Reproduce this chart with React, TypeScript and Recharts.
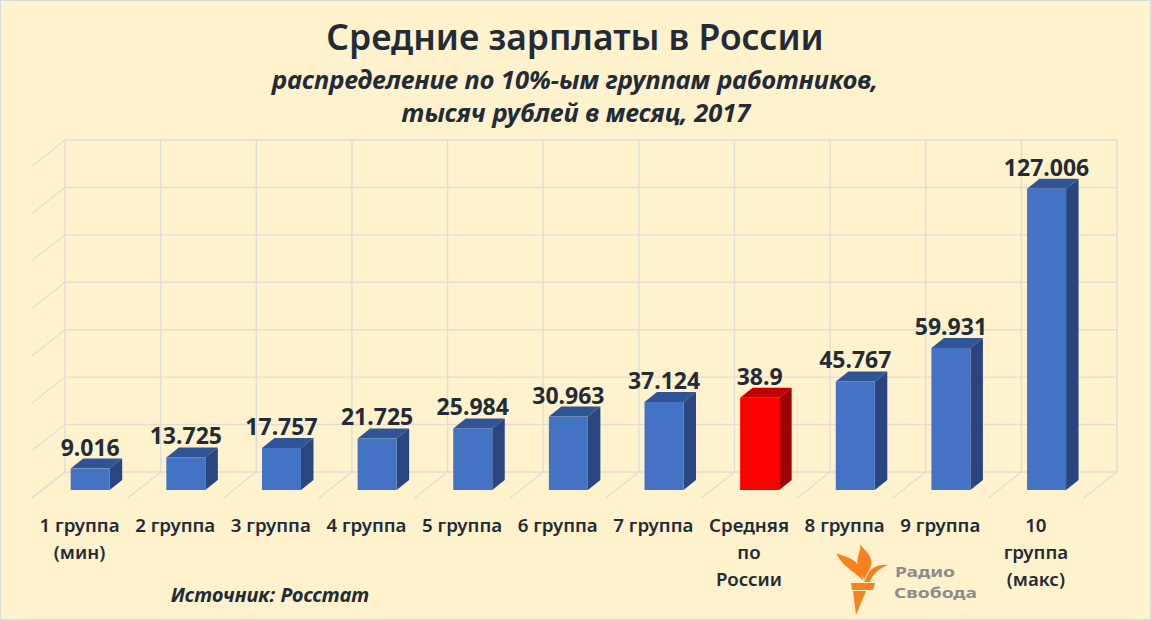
import React from "react";
import { BarChart, Bar, XAxis, YAxis, CartesianGrid, LabelList } from "recharts";

const categories = ["1 группа|(мин)", "2 группа", "3 группа", "4 группа", "5 группа", "6 группа", "7 группа", "Средняя|по|России", "8 группа", "9 группа", "10|группа|(макс)"];
const values = [9.016, 13.725, 17.757, 21.725, 25.984, 30.963, 37.124, 38.9, 45.767, 59.931, 127.006];
const yTicks = [0, 20, 40, 60, 80, 100, 120, 140];
const highlighted = "Средняя|по|России";
const titleText = "Средние зарплаты в России";
const subtitleLines = ["распределение по 10%-ым группам работников,", "тысяч рублей в месяц, 2017"];
const sourceText = "Источник: Росстат";
const logoLines = ["Радио", "Свобода"];

const data = categories.map((name, i) => ({ name, value: values[i] }));

const W = 1152, H = 621;
const FONT = "'Noto Sans', 'Open Sans', sans-serif";
const INK = "#222B38";
const GRID = "#E0DDD8";
const WALL_DX = 22.3, WALL_DY = -18;
const STUB_DX = -33, STUB_DY = 26;
const DEPTH_X = 12.5, DEPTH_Y = 10;

const Bar3D = (props: any) => {
  const { x, y, width, height, payload } = props;
  const red = payload.name === highlighted;
  const front = red ? "#FF0000" : "#4472C4";
  const top = red ? "#C00000" : "#2F5597";
  const side = red ? "#A00000" : "#2A4680";
  return (
    <g>
      <polygon points={`${x},${y} ${x + DEPTH_X},${y - DEPTH_Y} ${x + width + DEPTH_X},${y - DEPTH_Y} ${x + width},${y}`} fill={top} />
      <polygon points={`${x + width},${y} ${x + width + DEPTH_X},${y - DEPTH_Y} ${x + width + DEPTH_X},${y + height - DEPTH_Y} ${x + width},${y + height}`} fill={side} />
      <rect x={x} y={y} width={width} height={height} fill={front} />
    </g>
  );
};

const HLine = (p: any) => {
  const y = p.y1 + WALL_DY;
  const x = p.x1 + WALL_DX;
  return (
    <g key={p.key}>
      <line x1={x} y1={y} x2={p.x2 + WALL_DX} y2={y} stroke={GRID} strokeWidth={1.4} />
      <line x1={x} y1={y} x2={x + STUB_DX} y2={y + STUB_DY} stroke={GRID} strokeWidth={1.2} />
    </g>
  );
};

const VLine = (p: any) => {
  const x = p.x1 + WALL_DX;
  const yTop = Math.min(p.y1, p.y2) + WALL_DY;
  const yBot = Math.max(p.y1, p.y2) + WALL_DY;
  return (
    <g key={p.key}>
      <line x1={x} y1={yTop} x2={x} y2={yBot} stroke={GRID} strokeWidth={1.4} />
      <line x1={x} y1={yBot} x2={x + STUB_DX} y2={yBot + STUB_DY} stroke={GRID} strokeWidth={1.2} />
    </g>
  );
};

const Tick = (p: any) => {
  const lines = String(p.payload.value).split("|");
  return (
    <g>
      {lines.map((l: string, i: number) => (
        <text key={i} x={p.x - 11} y={532 + i * 27} textAnchor="middle" fontFamily={FONT} fontWeight={600} fontSize={18.7} fill={INK}>{l}</text>
      ))}
    </g>
  );
};

export default function App() {
  return (
    <div style={{ position: "absolute", left: 0, top: 0, width: W, height: H, boxSizing: "border-box", background: "#FFF2CC", borderStyle: "solid", borderColor: "#D9D9D9", borderWidth: "1px 2px 2px 1px", overflow: "hidden" }}>
      <div style={{ position: "absolute", left: -1, top: -1 }}>
        <BarChart width={W} height={H} data={data} barSize={39} margin={{ top: 158, right: 57.3, bottom: 31, left: 42.7 }}>
          <CartesianGrid
            horizontal={HLine}
            vertical={VLine}
            verticalCoordinatesGenerator={({ offset }: any) => categories.map((_, i) => offset.left + (i * offset.width) / categories.length).concat(offset.left + offset.width)}
          />
          <XAxis dataKey="name" axisLine={false} tickLine={false} height={100} interval={0} tick={<Tick />} />
          <YAxis hide domain={[0, 140]} ticks={yTicks} />
          <Bar dataKey="value" shape={<Bar3D />} isAnimationActive={false}>
            <LabelList dataKey="value" position="top" offset={13} fill={INK} fontFamily={FONT} fontWeight={700} fontSize={23} />
          </Bar>
          <text x={575} y={50} textAnchor="middle" fontFamily={FONT} fontWeight={600} fontSize={35.4} fill={INK}>{titleText}</text>
          <text x={575} y={89} textAnchor="middle" fontFamily={FONT} fontWeight={700} fontStyle="italic" fontSize={25.5} fill={INK}>{subtitleLines[0]}</text>
          <text x={576} y={122} textAnchor="middle" fontFamily={FONT} fontWeight={700} fontStyle="italic" fontSize={25.5} fill={INK}>{subtitleLines[1]}</text>
          <text x={270} y={602} textAnchor="middle" fontFamily={FONT} fontWeight={700} fontStyle="italic" fontSize={20} fill={INK}>{sourceText}</text>
          <g fill="#F58220">
            <path d="M836 553 C843 557 856 556 862 572 L863 581 C858 573 845 570 836 553 Z" />
            <path d="M860 544 C866 552 875 558 870 568 C868 573 865 576 864 580 C862 572 855 566 858 557 C859 552 861 549 860 544 Z" />
            <path d="M888 565 C878 564 871 568 868 574 L864 582 L870 582 C872 574 880 568 888 565 Z" />
            <polygon points="851,583 875,583 873,590 852,590" />
            <polygon points="853,591 866,591 856,615" />
          </g>
          <text x={895} y={577} fontFamily={FONT} fontWeight={700} fontSize={15} fill="#8C8C8C" textLength={60} lengthAdjust="spacingAndGlyphs">{logoLines[0]}</text>
          <text x={894} y={598} fontFamily={FONT} fontWeight={700} fontSize={15} fill="#8C8C8C" textLength={83} lengthAdjust="spacingAndGlyphs">{logoLines[1]}</text>
        </BarChart>
      </div>
    </div>
  );
}
